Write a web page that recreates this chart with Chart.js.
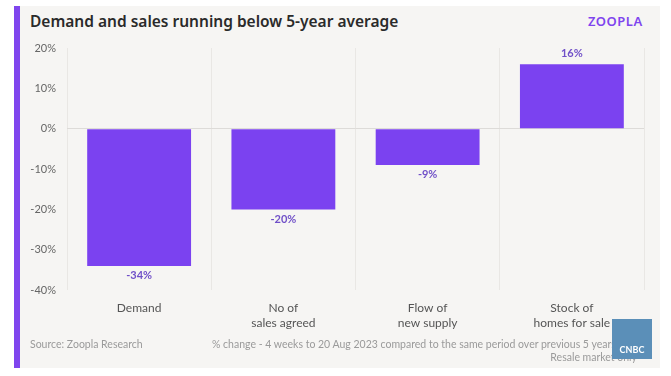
<!DOCTYPE html>
<html>
<head>
<meta charset="utf-8">
<script src="https://cdn.jsdelivr.net/npm/chart.js@4"></script>
<style>
  body { margin: 0; background: #fff; font-family: Lato, "Noto Sans", sans-serif; }
  .card { position: absolute; left: 14px; top: 6px; width: 646px; height: 362px; background: #f6f5f3; border-left: 6px solid #7f45ee; box-sizing: border-box; }
  .title { position: absolute; left: 30px; top: 10px; font-family: "Noto Sans", sans-serif; font-size: 15.5px; font-weight: 600; color: #2a2a2a; }
  .logo { position: absolute; left: 588px; top: 12px; font-family: "Noto Sans", sans-serif; font-size: 13px; font-weight: 600; color: #7f45ee; letter-spacing: 0.5px; }
  .chart { position: absolute; left: 20px; top: 30px; width: 640px; height: 311px; }
  .src { position: absolute; left: 30px; top: 338px; font-size: 10.5px; color: #9a9a9a; }
  .note { position: absolute; left: 212px; top: 338px; width: 425px; font-size: 10.5px; color: #9a9a9a; line-height: 13px; white-space: nowrap; }
  .note span { display: block; text-align: right; }
  .cnbc { position: absolute; left: 612px; top: 319px; width: 40px; height: 40px; background: #5b8fb8; color: #fff; font: bold 9px Lato, sans-serif; text-align: center; line-height: 62px; }
</style>
</head>
<body>
<div class="card"></div>
<div class="title">Demand and sales running below 5-year average</div>
<div class="logo">ZOOPLA</div>
<div class="chart"><canvas id="salesChart"></canvas></div>
<div class="src">Source: Zoopla Research</div>
<div class="note">% change - 4 weeks to 20 Aug 2023 compared to the same period over previous 5 years<span>Resale market only</span></div>
<div class="cnbc">CNBC</div>
<script>
const categories = [['Demand'], ['No of', 'sales agreed'], ['Flow of', 'new supply'], ['Stock of', 'homes for sale']];
const changeValues = [-34, -20, -9, 16];

const valueLabels = {
    id: 'valueLabels',
    afterDatasetsDraw(chart) {
        const ctx = chart.ctx;
        const meta = chart.getDatasetMeta(0);
        ctx.save();
        ctx.font = 'bold 11px Lato, sans-serif';
        ctx.fillStyle = '#7050c8';
        ctx.textAlign = 'center';
        meta.data.forEach((bar, i) => {
            const v = changeValues[i];
            if (v < 0) {
                ctx.textBaseline = 'top';
                ctx.fillText(v + '%', bar.x, bar.y + 4);
            } else {
                ctx.textBaseline = 'bottom';
                ctx.fillText(v + '%', bar.x, bar.y - 5);
            }
        });
        ctx.restore();
    }
};

const ctx = document.getElementById('salesChart').getContext('2d');
new Chart(ctx, {
    type: 'bar',
    data: {
        labels: categories,
        datasets: [{
            data: changeValues,
            backgroundColor: '#7b42f0',
            categoryPercentage: 0.72,
            barPercentage: 1
        }]
    },
    options: {
        responsive: true,
        maintainAspectRatio: false,
        animation: false,
        layout: { padding: { top: 18, right: 16, left: 0, bottom: 0 } },
        scales: {
            x: {
                grid: { color: '#e9e7e4', drawTicks: false },
                border: { display: false },
                ticks: { color: '#555', font: { family: 'Lato', size: 12 }, padding: 11 }
            },
            y: {
                min: -40,
                max: 20,
                afterFit: s => { s.width = 47; },
                grid: {
                    drawTicks: false,
                    color: c => c.tick && c.tick.value === 0 ? '#dddbd8' : 'rgba(0,0,0,0)'
                },
                border: { display: false },
                ticks: {
                    stepSize: 10,
                    color: '#666',
                    font: { family: 'Lato', size: 11 },
                    padding: 11,
                    callback: v => v + '%'
                }
            }
        },
        plugins: {
            legend: { display: false },
            tooltip: { enabled: false }
        }
    },
    plugins: [valueLabels]
});
</script>
</body>
</html>
